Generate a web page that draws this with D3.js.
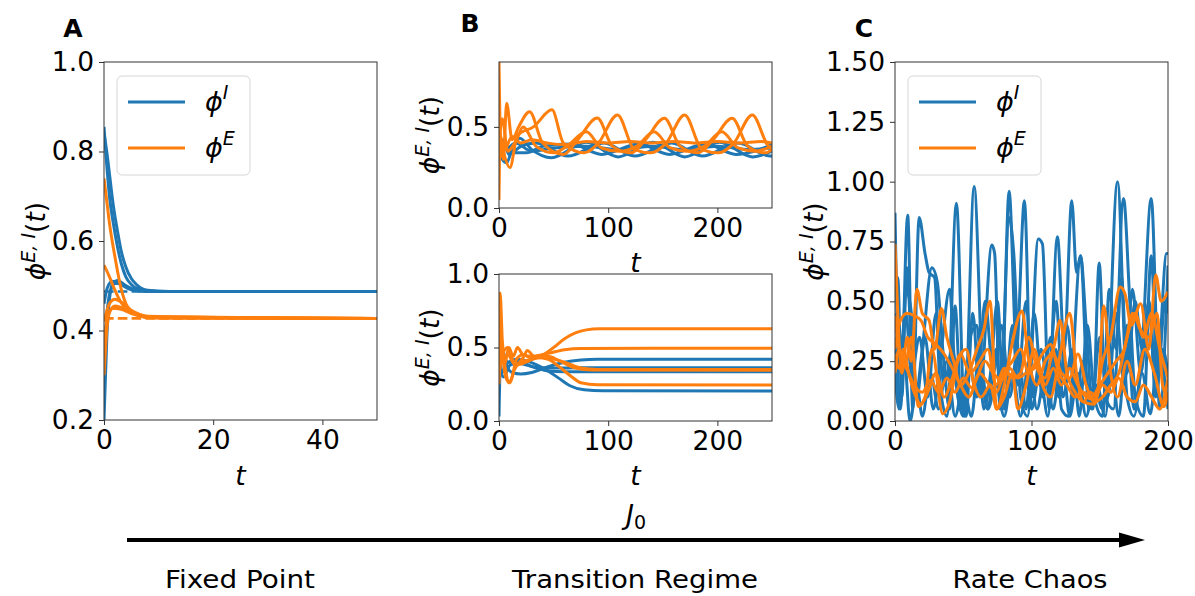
<!DOCTYPE html>
<html>
<head>
<meta charset="utf-8">
<script src="https://cdn.jsdelivr.net/npm/d3@7"></script>
<style>
  html, body { margin: 0; padding: 0; background: #fff; }
  svg { display: block; font-family: "DejaVu Sans", sans-serif; }
</style>
</head>
<body>
<svg id="fig" width="1195" height="596"></svg>
<script>
// ---------- data: firing-rate trajectories, knots as [t, phi] ----------
// Panel A: fixed point regime
const fixedPointI = 0.487;
const fixedPointE = 0.427;
const panelA_I = [
  [[0,0.855],[0.5,0.77],[1,0.7],[1.7,0.64],[2.5,0.585],[3.2,0.548],[4,0.52],[5,0.503],[6,0.494],[8,0.488],[12,0.487],[50,0.487]],
  [[0,0.84],[0.5,0.8],[1,0.75],[1.7,0.68],[2.5,0.62],[3.2,0.575],[4,0.542],[5,0.516],[6,0.502],[8,0.49],[12,0.487],[50,0.487]],
  [[0,0.2],[0.5,0.38],[1,0.47],[1.6,0.505],[2.5,0.512],[4,0.5],[6,0.49],[10,0.487],[50,0.487]],
  [[0,0.46],[0.6,0.495],[1.5,0.51],[3,0.503],[5,0.491],[8,0.487],[50,0.487]],
  [[0,0.32],[0.5,0.43],[1,0.48],[2,0.505],[3,0.505],[5,0.493],[8,0.487],[50,0.487]]
];
const panelA_E = [
  [[0,0.74],[0.5,0.69],[1,0.64],[2,0.565],[3.2,0.49],[4,0.46],[5,0.443],[6.4,0.433],[9,0.428],[50,0.427]],
  [[0,0.546],[1,0.52],[2,0.49],[3,0.465],[4,0.45],[6,0.437],[9,0.43],[50,0.427]],
  [[0,0.3],[0.5,0.4],[1,0.44],[2,0.455],[3,0.452],[5,0.44],[8,0.43],[12,0.428],[50,0.427]],
  [[0,0.36],[0.5,0.42],[1.5,0.45],[3,0.448],[5,0.438],[8,0.43],[50,0.427]],
  [[0,0.42],[1,0.46],[2,0.47],[3,0.465],[5,0.445],[8,0.432],[50,0.427]]
];

// Panel B (top): persistent oscillations
const panelBtop_I = [
  [[0,0.4],[3,0.3],[7,0.28],[12,0.36],[19,0.43],[30,0.36],[48,0.31],[80,0.405],[109,0.315],[141,0.405],[170,0.315],[202,0.405],[232,0.315],[250,0.35]],
  [[0,0.35],[4,0.42],[9,0.33],[20,0.38],[34,0.40],[63,0.32],[96,0.40],[124,0.32],[158,0.40],[186,0.32],[219,0.40],[248,0.32],[250,0.32]],
  [[0,0.3],[5,0.4],[12,0.34],[25,0.34],[40,0.38],[66,0.395],[94,0.33],[128,0.395],[156,0.33],[189,0.395],[217,0.33],[250,0.39]],
  [[0,0.45],[6,0.36],[15,0.4],[30,0.35],[50,0.37],[80,0.38],[110,0.36],[140,0.38],[170,0.36],[200,0.38],[230,0.36],[250,0.37]]
];
const panelBtop_E = [
  [[0,0.9],[1.5,0.4],[4,0.3],[7,0.646],[12,0.42],[18,0.5],[28,0.594],[40,0.4],[59,0.33],[72,0.42],[90,0.555],[104,0.38],[121,0.34],[134,0.42],[151.5,0.553],[166,0.38],[182,0.34],[196,0.42],[213.5,0.553],[228,0.38],[244,0.34],[250,0.36]],
  [[0,0.05],[1,0.45],[4,0.35],[10,0.25],[17,0.45],[31.5,0.5],[48.5,0.605],[59,0.4],[78,0.34],[91,0.4],[108.5,0.574],[124,0.36],[139,0.34],[153,0.4],[170,0.574],[186,0.36],[201,0.34],[215,0.4],[232,0.574],[247,0.38],[250,0.37]],
  [[0,0.4],[3,0.55],[8,0.35],[16,0.42],[22,0.5],[34,0.38],[50,0.34],[62,0.38],[80,0.47],[94,0.37],[110,0.35],[126,0.38],[142,0.47],[157,0.37],[172,0.35],[188,0.38],[204,0.47],[219,0.37],[234,0.35],[250,0.38]],
  [[0,0.5],[5,0.36],[12,0.44],[20,0.4],[30,0.42],[45,0.4],[60,0.39],[80,0.41],[100,0.4],[120,0.41],[140,0.4],[160,0.41],[180,0.4],[200,0.41],[220,0.4],[240,0.41],[250,0.4]]
];

// Panel B (bottom): slow settling onto heterogeneous fixed points
const panelBbot_I = [
  [[0,0.03],[1,0.35],[3,0.5],[6,0.4],[12,0.33],[20,0.32],[30,0.33],[45,0.37],[60,0.4],[75,0.415],[90,0.42],[250,0.42]],
  [[0,0.5],[3,0.33],[8,0.4],[15,0.4],[25,0.38],[40,0.36],[55,0.36],[70,0.362],[250,0.363]],
  [[0,0.4],[4,0.3],[10,0.38],[20,0.4],[30,0.37],[45,0.34],[60,0.335],[250,0.335]],
  [[0,0.3],[3,0.45],[8,0.4],[15,0.42],[25,0.41],[35,0.38],[45,0.34],[55,0.29],[65,0.24],[78,0.212],[95,0.205],[250,0.204]]
];
const panelBbot_E = [
  [[0,0.45],[1,0.87],[3,0.55],[6,0.35],[9,0.26],[12,0.3],[16,0.42],[22,0.45],[30,0.43],[40,0.45],[50,0.5],[60,0.56],[70,0.6],[80,0.62],[92,0.627],[250,0.627]],
  [[0,0.6],[2,0.5],[5,0.38],[9,0.5],[13,0.44],[17,0.5],[22,0.45],[30,0.44],[45,0.46],[60,0.485],[75,0.494],[250,0.495]],
  [[0,0.3],[3,0.45],[8,0.5],[12,0.42],[16,0.39],[22,0.43],[26,0.48],[32,0.44],[45,0.43],[60,0.4],[75,0.36],[90,0.35],[250,0.35]],
  [[0,0.25],[2,0.5],[6,0.3],[10,0.26],[14,0.35],[20,0.4],[30,0.42],[45,0.44],[55,0.41],[70,0.36],[85,0.347],[250,0.345]],
  [[0,0.5],[3,0.4],[8,0.45],[15,0.38],[25,0.4],[35,0.43],[45,0.42],[55,0.37],[65,0.31],[75,0.26],[90,0.246],[250,0.245]]
];

// Panel C: rate chaos
const panelC_I = [
  [[0,0.87],[4,0.05],[9.3,0.86],[13,0.05],[17.7,0.85],[22,0.7],[25,0.62],[29,0.6],[33,0.15],[38,0.02],[45,0.91],[51,0.02],[58,0.98],[64,0.2],[68,0.05],[74,0.3],[78,0.1],[83.6,0.96],[89,0.3],[94.8,0.92],[100,0.05],[106,0.2],[112,0.02],[119,0.77],[124,0.3],[129.5,0.92],[133,0.62],[136,0.69],[142,0.05],[148,0.15],[154,0.02],[163,1.0],[170,0.1],[175,0.02],[181,0.3],[187.7,0.93],[194,0.05],[200,0.65]],
  [[0,0.6],[2,0.6],[5,0.1],[8.7,0.64],[12,0.3],[15,0.1],[20,0.3],[27,0.64],[31,0.58],[35,0.3],[40,0.05],[44,0.48],[48,0.1],[52,0.02],[57,0.45],[62,0.1],[71,0.735],[73,0.7],[77,0.05],[83.6,0.85],[87,0.7],[92,0.1],[97,0.02],[105,0.76],[108,0.74],[113,0.05],[118,0.3],[122,0.05],[127,0.02],[136,0.69],[140,0.4],[145,0.05],[149.6,0.66],[154,0.1],[160,0.05],[167.4,0.93],[172,0.5],[176,0.1],[182,0.02],[187.7,0.69],[192,0.2],[199,0.7],[200,0.7]],
  [[0,0.35],[4,0.1],[8,0.55],[12,0.45],[16,0.1],[22,0.35],[28,0.05],[34,0.3],[40,0.55],[44,0.2],[50,0.02],[55,0.35],[60,0.4],[65,0.05],[70,0.2],[75,0.5],[80,0.05],[86,0.4],[90,0.15],[96,0.5],[101,0.1],[107,0.3],[112,0.15],[118,0.5],[123,0.1],[130,0.3],[135,0.02],[141,0.4],[146,0.1],[152,0.02],[157,0.55],[162,0.3],[166,0.6],[170,0.2],[176,0.5],[181,0.3],[186,0.5],[191,0.1],[196,0.3],[200,0.2]],
  [[0,0.2],[3,0.05],[7,0.25],[11,0.0],[16,0.15],[20,0.02],[26,0.2],[32,0.05],[38,0.25],[44,0.02],[50,0.15],[56,0.02],[62,0.3],[68,0.05],[74,0.15],[80,0.02],[86,0.2],[92,0.02],[98,0.25],[104,0.05],[110,0.2],[116,0.05],[122,0.3],[128,0.02],[134,0.2],[140,0.02],[146,0.15],[152,0.05],[158,0.25],[164,0.02],[170,0.4],[175,0.05],[181,0.2],[187,0.03],[193,0.3],[200,0.05]],
  [[0,0.45],[4,0.3],[8,0.45],[12,0.2],[18,0.35],[24,0.1],[30,0.45],[36,0.15],[42,0.3],[48,0.05],[54,0.25],[60,0.1],[66,0.5],[72,0.2],[78,0.4],[84,0.1],[90,0.3],[96,0.05],[102,0.45],[108,0.1],[114,0.35],[120,0.1],[126,0.4],[132,0.1],[138,0.25],[144,0.05],[150,0.35],[156,0.1],[162,0.45],[168,0.15],[174,0.55],[180,0.2],[186,0.45],[192,0.15],[198,0.5],[200,0.45]]
];
const panelC_E = [
  [[0,0.74],[2,0.45],[5,0.2],[9,0.35],[12,0.25],[16,0.55],[20,0.45],[25,0.42],[29,0.3],[34,0.47],[38,0.35],[43,0.25],[48,0.15],[54,0.2],[60,0.3],[65,0.38],[69.6,0.5],[74.5,0.05],[80,0.15],[85,0.3],[93,0.46],[98,0.25],[104,0.15],[110,0.25],[116,0.3],[121,0.42],[126,0.2],[132,0.12],[138,0.08],[146,0.07],[152,0.25],[158,0.35],[165,0.56],[168.6,0.53],[173,0.4],[180,0.49],[186,0.3],[191,0.61],[195,0.5],[200,0.54]],
  [[0,0.44],[3,0.3],[8,0.25],[12,0.35],[17,0.06],[22,0.1],[27,0.3],[35,0.03],[40,0.08],[46,0.25],[52,0.3],[58,0.15],[63,0.1],[70,0.15],[74.5,0.05],[80,0.1],[86,0.2],[90,0.05],[96,0.15],[102,0.3],[108,0.15],[114,0.1],[120,0.25],[128,0.45],[133,0.2],[138,0.08],[143,0.12],[148,0.1],[153,0.48],[158,0.2],[163,0.1],[170,0.25],[176,0.15],[183,0.3],[190,0.2],[197,0.06],[200,0.12]],
  [[0,0.28],[3,0.22],[6,0.3],[10,0.2],[14,0.12],[19,0.07],[24,0.12],[30,0.2],[36,0.1],[42,0.18],[48,0.28],[55,0.2],[62,0.25],[68,0.3],[74,0.15],[80,0.22],[86,0.18],[92,0.2],[98,0.35],[104,0.22],[110,0.18],[116,0.28],[122,0.2],[128,0.18],[134,0.28],[140,0.15],[146,0.08],[152,0.1],[158,0.15],[164,0.2],[170,0.35],[176,0.45],[182,0.35],[188,0.45],[194,0.3],[200,0.18]],
  [[0,0.3],[4,0.42],[9,0.45],[14,0.44],[19,0.42],[24,0.35],[30,0.32],[36,0.28],[42,0.22],[48,0.15],[54,0.1],[60,0.18],[66,0.25],[72,0.2],[78,0.17],[84,0.22],[90,0.18],[96,0.2],[102,0.22],[108,0.28],[114,0.32],[120,0.2],[126,0.15],[132,0.1],[138,0.12],[144,0.1],[150,0.15],[156,0.2],[162,0.25],[168,0.3],[174,0.45],[180,0.38],[186,0.35],[192,0.45],[196,0.15],[200,0.1]],
  [[0,0.2],[3,0.3],[6,0.25],[10,0.2],[14,0.15],[20,0.12],[26,0.17],[32,0.12],[38,0.18],[44,0.12],[50,0.18],[56,0.14],[62,0.2],[68,0.16],[74,0.12],[80,0.2],[86,0.25],[92,0.3],[98,0.2],[104,0.25],[110,0.15],[116,0.22],[122,0.15],[128,0.22],[134,0.15],[140,0.1],[146,0.09],[152,0.15],[158,0.12],[164,0.18],[170,0.1],[176,0.08],[182,0.15],[188,0.1],[194,0.05],[200,0.18]]
];

// tick labels
const ticksA_x = [0, 20, 40];
const ticksA_y = [0.2, 0.4, 0.6, 0.8, 1.0];
const ticksB_x = [0, 100, 200];
const ticksBtop_y = [0.0, 0.5];
const ticksBbot_y = [0.0, 0.5, 1.0];
const ticksC_x = [0, 100, 200];
const ticksC_y = [0.0, 0.25, 0.5, 0.75, 1.0, 1.25, 1.5];

const regimeLabels = ["Fixed Point", "Transition Regime", "Rate Chaos"];

// ---------- drawing ----------
const BLUE = "#1f77b4", ORANGE = "#ff7f0e";
const TICK_FS = 26.5;
const svg = d3.select("#fig");
let clipId = 0;

function makePanel(opt) {
  const x = d3.scaleLinear().domain(opt.xDomain).range([opt.left, opt.right]);
  const y = d3.scaleLinear().domain(opt.yDomain).range([opt.bottom, opt.top]);
  const g = svg.append("g");
  const id = "clip" + (clipId++);
  svg.append("clipPath").attr("id", id).append("rect")
    .attr("x", opt.left).attr("y", opt.top)
    .attr("width", opt.right - opt.left).attr("height", opt.bottom - opt.top);
  const plot = g.append("g").attr("clip-path", `url(#${id})`);
  const line = d3.line().x(d => x(d[0])).y(d => y(d[1])).curve(d3.curveMonotoneX);

  (opt.dashed || []).forEach(dl => {
    plot.append("path").datum([[opt.xDomain[0], dl.v], [opt.xDomain[1], dl.v]])
      .attr("d", d3.line().x(d => x(d[0])).y(d => y(d[1])))
      .attr("fill", "none").attr("stroke", dl.color).attr("stroke-width", 2.6)
      .attr("stroke-dasharray", "9.6,4.2");
  });
  const lw = opt.lw || 3;
  opt.seriesI.forEach(s => plot.append("path").datum(s).attr("d", line)
    .attr("fill", "none").attr("stroke", BLUE).attr("stroke-width", lw).attr("stroke-linejoin", "round"));
  opt.seriesE.forEach(s => plot.append("path").datum(s).attr("d", line)
    .attr("fill", "none").attr("stroke", ORANGE).attr("stroke-width", lw).attr("stroke-linejoin", "round"));

  // frame
  g.append("rect").attr("x", opt.left).attr("y", opt.top)
    .attr("width", opt.right - opt.left).attr("height", opt.bottom - opt.top)
    .attr("fill", "none").attr("stroke", "#333").attr("stroke-width", 1);

  const xAxis = d3.axisBottom(x).tickValues(opt.xTicks).tickSize(5).tickPadding(3)
    .tickFormat(d3.format("d"));
  const gx = g.append("g").attr("transform", `translate(0,${opt.bottom})`).call(xAxis);
  const yAxis = d3.axisLeft(y).tickValues(opt.yTicks).tickSize(5).tickPadding(5)
    .tickFormat(opt.yFormat);
  const gy = g.append("g").attr("transform", `translate(${opt.left},0)`).call(yAxis);
  [gx, gy].forEach(a => {
    a.select(".domain").remove();
    a.selectAll(".tick line").attr("stroke", "#333");
    a.selectAll(".tick text").attr("fill", "#000").attr("font-size", TICK_FS)
      .attr("font-family", "DejaVu Sans");
  });
  gx.selectAll(".tick text").attr("dy", "0.78em");

  // y label  phi^{E,I}(t)
  const yl = g.append("text")
    .attr("transform", `translate(${opt.ylabelX},${(opt.top + opt.bottom) / 2}) rotate(-90)`)
    .attr("text-anchor", "middle").attr("font-size", TICK_FS).attr("fill", "#000");
  yl.append("tspan").attr("font-style", "italic").text("ϕ");
  yl.append("tspan").attr("font-style", "italic").attr("font-size", 19).attr("dy", -10).text("E, I");
  yl.append("tspan").attr("dy", 10).text("(");
  yl.append("tspan").attr("font-style", "italic").text("t");
  yl.append("tspan").text(")");

  // x label t
  g.append("text").attr("x", (opt.left + opt.right) / 2).attr("y", opt.xlabelY)
    .attr("text-anchor", "middle").attr("font-size", TICK_FS).attr("font-style", "italic")
    .attr("fill", "#000").text("t");
  return { x, y, g };
}

function legend(x0, y0) {
  const g = svg.append("g");
  g.append("rect").attr("x", x0).attr("y", y0).attr("width", 133).attr("height", 99)
    .attr("rx", 5).attr("fill", "#fff").attr("fill-opacity", 0.8)
    .attr("stroke", "#d6d6d6").attr("stroke-width", 1);
  [["I", BLUE, 26], ["E", ORANGE, 72]].forEach(([sup, c, dy]) => {
    g.append("line").attr("x1", x0 + 11).attr("x2", x0 + 68)
      .attr("y1", y0 + dy).attr("y2", y0 + dy).attr("stroke", c).attr("stroke-width", 2.8);
    const t = g.append("text").attr("x", x0 + 88).attr("y", y0 + dy + 9)
      .attr("font-size", 27).attr("fill", "#000");
    t.append("tspan").attr("font-style", "italic").text("ϕ");
    t.append("tspan").attr("font-style", "italic").attr("font-size", 19).attr("dy", -12).text(sup);
  });
}

const fmt1 = d3.format(".1f"), fmt2 = d3.format(".2f");

makePanel({
  left: 104, right: 377, top: 62, bottom: 420,
  xDomain: [0, 50], yDomain: [0.2, 1.0], xTicks: ticksA_x, yTicks: ticksA_y, yFormat: fmt1,
  seriesI: panelA_I, seriesE: panelA_E,
  dashed: [{ v: fixedPointI, color: BLUE }, { v: fixedPointE, color: ORANGE }],
  ylabelX: 45, xlabelY: 485
});
legend(117, 76);

makePanel({
  left: 499, right: 772, top: 62, bottom: 208,
  xDomain: [0, 250], yDomain: [0, 0.9], xTicks: ticksB_x, yTicks: ticksBtop_y, yFormat: fmt1,
  seriesI: panelBtop_I, seriesE: panelBtop_E,
  ylabelX: 439, xlabelY: 272
});
makePanel({
  left: 499, right: 772, top: 274, bottom: 421,
  xDomain: [0, 250], yDomain: [0, 1.0], xTicks: ticksB_x, yTicks: ticksBbot_y, yFormat: fmt1,
  seriesI: panelBbot_I, seriesE: panelBbot_E,
  ylabelX: 439, xlabelY: 485
});
makePanel({
  left: 895, right: 1168, top: 62, bottom: 421,
  xDomain: [0, 200], yDomain: [0, 1.5], xTicks: ticksC_x, yTicks: ticksC_y, yFormat: fmt2,
  seriesI: panelC_I, seriesE: panelC_E,
  ylabelX: 823, xlabelY: 485
});
legend(908, 76);

// panel letters
[["A", 73, 37], ["B", 470, 32], ["C", 864, 37]].forEach(([s, x, y]) =>
  svg.append("text").attr("x", x).attr("y", y).attr("text-anchor", "middle")
    .attr("font-size", 25).attr("font-weight", "bold").attr("fill", "#000").text(s));

// J0 axis with arrow
const jl = svg.append("text").attr("x", 636).attr("y", 524).attr("text-anchor", "middle")
  .attr("font-size", 27).attr("fill", "#000");
jl.append("tspan").attr("font-style", "italic").text("J");
jl.append("tspan").attr("font-size", 19).attr("dy", 5).text("0");

svg.append("line").attr("x1", 127).attr("x2", 1122).attr("y1", 540).attr("y2", 540)
  .attr("stroke", "#000").attr("stroke-width", 4);
svg.append("path").attr("d", "M1119,532.5 L1145,540 L1119,547.5 Z").attr("fill", "#000");

// regime names along the J0 axis
const regimeX = [240, 635, 1030];
const regimeW = [150, 246, 155];
regimeLabels.forEach((s, i) =>
  svg.append("text").attr("x", regimeX[i]).attr("y", 588).attr("text-anchor", "middle")
    .attr("font-size", 25).attr("fill", "#000")
    .attr("textLength", regimeW[i]).attr("lengthAdjust", "spacingAndGlyphs").text(s));
</script>
</body>
</html>
